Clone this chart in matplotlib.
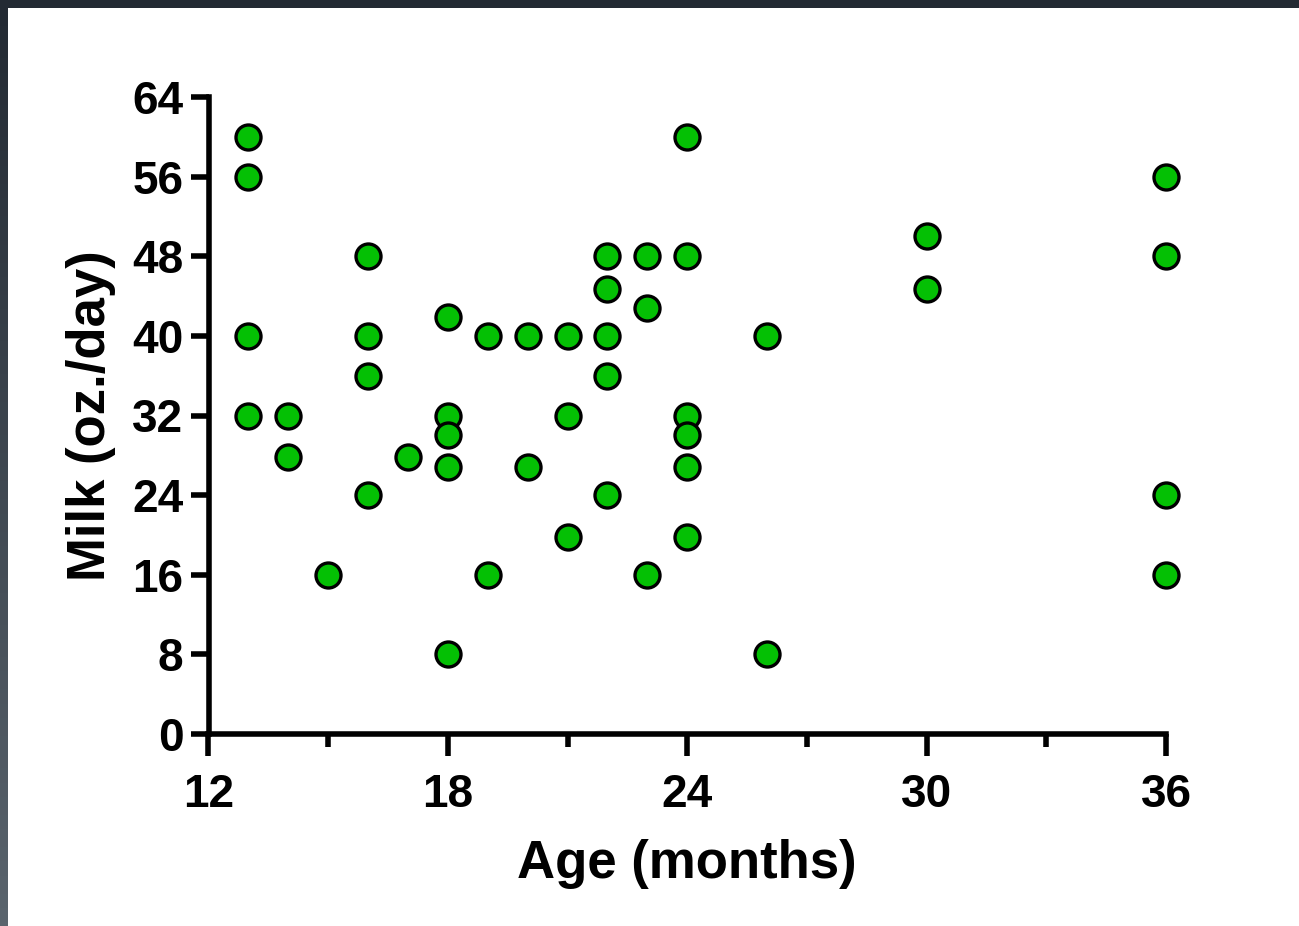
import numpy as np
import matplotlib
matplotlib.use("Agg")
import matplotlib.pyplot as plt
from matplotlib.ticker import MultipleLocator
from matplotlib.colors import LinearSegmentedColormap

# Data
age_months = [13, 13, 13, 13,
              14, 14,
              15,
              16, 16, 16, 16,
              17,
              18, 18, 18, 18, 18,
              19, 19,
              20, 20,
              21, 21, 21,
              22, 22, 22, 22, 22,
              23, 23, 23,
              24, 24, 24, 24, 24, 24,
              26, 26,
              30, 30,
              36, 36, 36, 36]
milk_oz_day = [60, 56, 40, 32,
               32, 27.8,
               16,
               48, 40, 36, 24,
               27.8,
               41.9, 32, 30, 26.8, 8,
               40, 16,
               40, 26.8,
               40, 32, 19.8,
               48, 44.7, 40, 36, 24,
               48, 42.8, 16,
               60, 48, 32, 30, 26.8, 19.8,
               40, 8,
               50, 44.7,
               56, 48, 24, 16]

x_major_ticks = [12, 18, 24, 30, 36]
y_major_ticks = [0, 8, 16, 24, 32, 40, 48, 56, 64]
x_label = "Age (months)"
y_label = "Milk (oz./day)"

W, H = 1299, 926
fig = plt.figure(figsize=(W / 100, H / 100), dpi=100)
fig.patch.set_facecolor("white")

# dark screenshot frame (top and left)
top_ax = fig.add_axes([0, 1 - 8 / H, 1, 8 / H])
top_ax.set_facecolor("#232a33")
top_ax.set_xticks([]); top_ax.set_yticks([])
for s in top_ax.spines.values():
    s.set_visible(False)
left_ax = fig.add_axes([0, 0, 8 / W, 1 - 8 / H])
grad = np.linspace(0, 1, 256).reshape(-1, 1)
cm = LinearSegmentedColormap.from_list("fr", ["#232a33", "#5a646d"])
left_ax.imshow(grad, aspect="auto", cmap=cm, extent=[0, 1, 0, 1])
left_ax.set_xticks([]); left_ax.set_yticks([])
for s in left_ax.spines.values():
    s.set_visible(False)

x0, x1 = 208.5, 1166.0
ytop, ybot = 97, 734
ax = fig.add_axes([x0 / W, (H - ybot) / H, (x1 - x0) / W, (ybot - ytop) / H])

ax.plot(age_months, milk_oz_day, linestyle="none", marker="o", markersize=18,
        markerfacecolor="#04c004", markeredgecolor="black", markeredgewidth=2.4,
        clip_on=False, zorder=5)

ax.set_xlim(12, 36)
ax.set_ylim(0, 64)
ax.set_xticks(x_major_ticks)
ax.set_yticks(y_major_ticks)
ax.xaxis.set_minor_locator(MultipleLocator(3))

for side in ["top", "right"]:
    ax.spines[side].set_visible(False)
for side in ["left", "bottom"]:
    ax.spines[side].set_linewidth(4.0)
    ax.spines[side].set_capstyle("projecting")

font = "Liberation Sans"
ax.tick_params(axis="x", which="major", length=16, width=4.0, pad=12,
               labelsize=33, direction="out")
ax.tick_params(axis="x", which="minor", length=9, width=4.0, direction="out")
ax.tick_params(axis="y", which="major", length=13, width=4.0, pad=5,
               labelsize=33, direction="out")
for lab in ax.get_xticklabels() + ax.get_yticklabels():
    lab.set_fontfamily(font)
    lab.set_fontweight("bold")

ax.set_xlabel(x_label, fontsize=38, fontweight="bold", family=font, labelpad=16)
ax.set_ylabel(y_label, fontsize=38, fontweight="bold", family=font, labelpad=12)

fig.savefig("out.png", dpi=100, facecolor="white")
